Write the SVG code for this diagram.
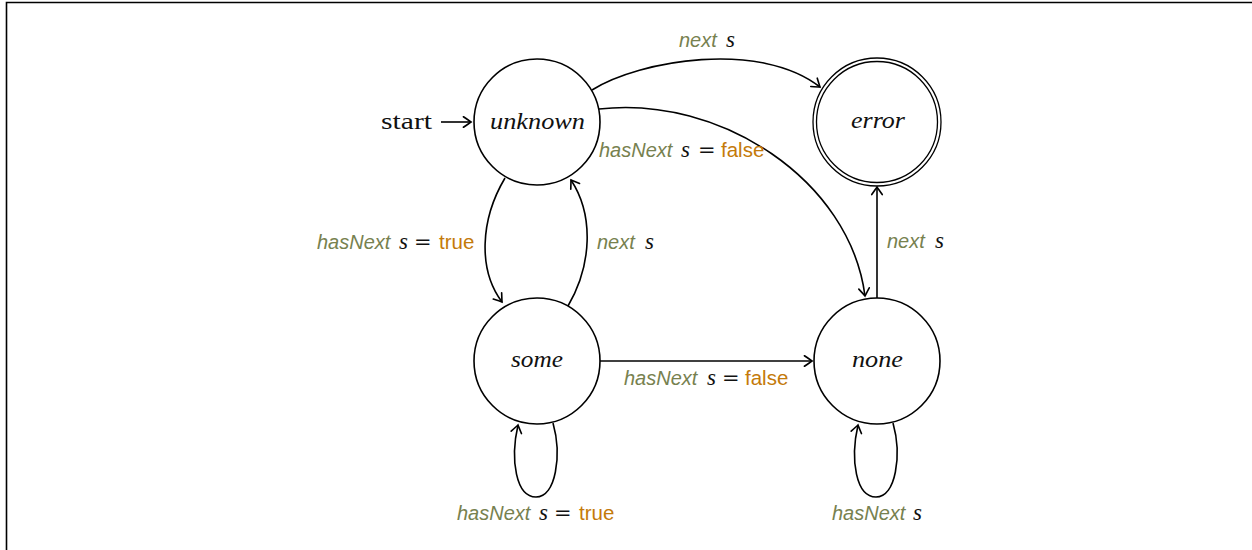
<svg xmlns="http://www.w3.org/2000/svg" width="1252" height="550" viewBox="0 0 1252 550">
<style>
.frame{fill:none;stroke:#000;stroke-width:1.6}
.st{fill:#fff;stroke:#000;stroke-width:1.6}
.dbl{fill:none;stroke:#000;stroke-width:1.3}
.e{fill:none;stroke:#000;stroke-width:1.6}
.nt{font-family:"Liberation Serif",serif;font-style:italic;font-size:24px;fill:#111}
.rm{font-family:"Liberation Serif",serif;font-size:24px;fill:#111}
.lb{font-family:"Liberation Sans",sans-serif;font-style:italic;font-size:20px;fill:#77814f}
.mi{font-family:"Liberation Serif",serif;font-style:italic;font-size:23px;fill:#111}
.eq{font-family:"DejaVu Serif",serif;font-size:21px;fill:#111}
.kw{font-family:"Liberation Sans",sans-serif;font-size:20.5px;fill:#c47a0a}
</style>
<defs>
<marker id="ar" markerUnits="userSpaceOnUse" markerWidth="14" markerHeight="14" viewBox="-8 -6 10 12" refX="0" refY="0" orient="auto">
<path d="M-6.5,-4.5 Q-1.5,-1 0,0 Q-1.5,1 -6.5,4.5" fill="none" stroke="#000" stroke-width="1.4" stroke-linecap="round"/>
</marker>
</defs>
<path class="frame" d="M6.5,560 L6.5,2.5 L1260,2.5"/>

<g id="connectors">
<path class="e" d="M441,122 L471,122" marker-end="url(#ar)"/>
<path class="e" d="M592,90 C640,60 760,40 820,87" marker-end="url(#ar)"/>
<path class="e" d="M599,109 C720,95 850,180 865,296" marker-end="url(#ar)"/>
<path class="e" d="M505,178 C480,220 478,270 502,302" marker-end="url(#ar)"/>
<path class="e" d="M568,306 C592,265 594,215 571,180" marker-end="url(#ar)"/>
<path class="e" d="M600,361 L812,361" marker-end="url(#ar)"/>
<path class="e" d="M877,298 L877,187" marker-end="url(#ar)"/>
<path class="e" d="M553,423 C562,455 556,497 536,497 C516,497 510,460 518,425" marker-end="url(#ar)"/>
<path class="e" d="M893,423 C902,455 896,497 876,497 C856,497 850,460 858,425" marker-end="url(#ar)"/>
</g>

<g id="start-label">
<text class="rm" x="381" y="129" textLength="51" lengthAdjust="spacingAndGlyphs">start</text>
</g>

<g id="node-unknown">
<circle class="st" cx="537" cy="122" r="63"/>
<text class="nt" x="490" y="129" textLength="95" lengthAdjust="spacingAndGlyphs">unknown</text>
</g>
<g id="node-error">
<circle class="dbl" cx="877" cy="122" r="64"/>
<circle class="dbl" cx="877" cy="122" r="60.5"/>
<text class="nt" x="851" y="128" textLength="54" lengthAdjust="spacingAndGlyphs">error</text>
</g>
<g id="node-some">
<circle class="st" cx="537" cy="361" r="63"/>
<text class="nt" x="511" y="367" textLength="52" lengthAdjust="spacingAndGlyphs">some</text>
</g>
<g id="node-none">
<circle class="st" cx="877" cy="361" r="63"/>
<text class="nt" x="852" y="367" textLength="51" lengthAdjust="spacingAndGlyphs">none</text>
</g>

<g id="labels">
<text x="0" y="47"><tspan class="lb" x="679">next</tspan><tspan class="mi" x="726">s</tspan></text>
<text x="0" y="157"><tspan class="lb" x="599">hasNext</tspan><tspan class="mi" x="681">s</tspan><tspan class="eq" x="698">=</tspan><tspan class="kw" x="721">false</tspan></text>
<text x="0" y="249"><tspan class="lb" x="317">hasNext</tspan><tspan class="mi" x="399">s</tspan><tspan class="eq" x="414">=</tspan><tspan class="kw" x="439">true</tspan></text>
<text x="0" y="249"><tspan class="lb" x="597">next</tspan><tspan class="mi" x="645">s</tspan></text>
<text x="0" y="248"><tspan class="lb" x="887">next</tspan><tspan class="mi" x="935">s</tspan></text>
<text x="0" y="385"><tspan class="lb" x="624">hasNext</tspan><tspan class="mi" x="707">s</tspan><tspan class="eq" x="722">=</tspan><tspan class="kw" x="745">false</tspan></text>
<text x="0" y="520"><tspan class="lb" x="457">hasNext</tspan><tspan class="mi" x="539">s</tspan><tspan class="eq" x="554">=</tspan><tspan class="kw" x="579">true</tspan></text>
<text x="0" y="520"><tspan class="lb" x="832">hasNext</tspan><tspan class="mi" x="913">s</tspan></text>
</g>
</svg>
